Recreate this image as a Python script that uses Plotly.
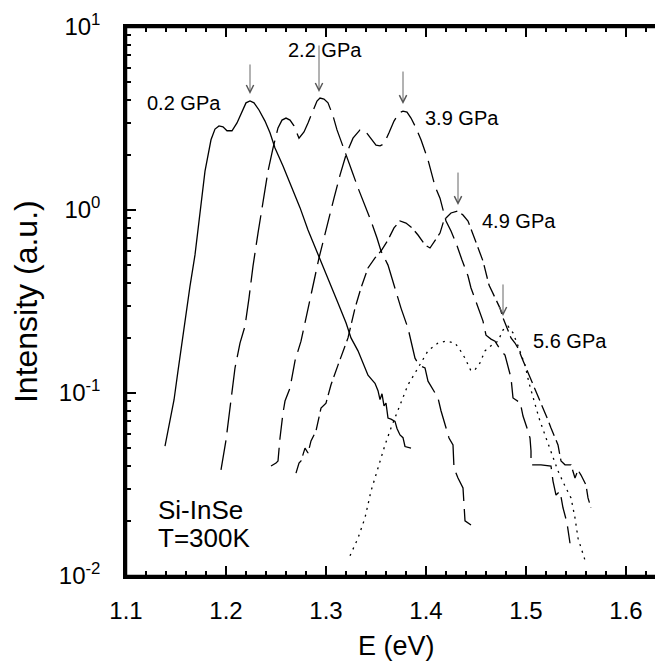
import plotly.graph_objects as go

# ---- data (E in eV, intensity in a.u.) ----
E_02 = [1.139, 1.144, 1.148, 1.152, 1.156, 1.160, 1.164, 1.169, 1.174, 1.179, 1.185, 1.189, 1.193, 1.197,
        1.201, 1.206, 1.211, 1.216, 1.220, 1.224, 1.228, 1.233, 1.239, 1.244, 1.249, 1.257, 1.265, 1.274,
        1.282, 1.292, 1.302, 1.312, 1.320, 1.325, 1.332, 1.337, 1.342, 1.346, 1.349, 1.352, 1.354, 1.356,
        1.358, 1.360, 1.362, 1.365, 1.369, 1.371, 1.374, 1.377, 1.379, 1.385]
I_02 = [0.0513, 0.0703, 0.0916, 0.132, 0.192, 0.281, 0.384, 0.568, 0.963, 1.63, 2.42, 2.77, 2.88, 2.85,
        2.71, 2.71, 2.99, 3.47, 3.85, 3.94, 3.85, 3.52, 3.06, 2.64, 2.18, 1.74, 1.37, 1.03,
        0.778, 0.568, 0.414, 0.310, 0.242, 0.200, 0.170, 0.146, 0.125, 0.118, 0.113, 0.103, 0.092, 0.099,
        0.085, 0.088, 0.073, 0.072, 0.070, 0.064, 0.059, 0.057, 0.051, 0.050]

E_22 = [1.195, 1.200, 1.204, 1.209, 1.214, 1.219, 1.223, 1.227, 1.232, 1.237, 1.242, 1.247, 1.252, 1.256,
        1.260, 1.264, 1.268, 1.273, 1.278, 1.282, 1.287, 1.291, 1.294, 1.298, 1.302, 1.307, 1.311, 1.316,
        1.320, 1.326, 1.332, 1.339, 1.345, 1.351, 1.355, 1.362, 1.369, 1.375, 1.382, 1.385, 1.389, 1.393,
        1.399, 1.402, 1.407, 1.412, 1.415, 1.419, 1.423, 1.427, 1.428, 1.432, 1.437, 1.439, 1.445]
I_22 = [0.038, 0.0553, 0.0828, 0.137, 0.1875, 0.232, 0.330, 0.494, 0.748, 1.12, 1.63, 2.18, 2.81, 3.10,
        3.18, 3.10, 2.88, 2.47, 2.67, 2.99, 3.47, 3.94, 4.09, 4.04, 3.85, 3.27, 2.74, 2.32,
        2.00, 1.63, 1.32, 1.06, 0.871, 0.703, 0.597, 0.500, 0.375, 0.291, 0.226, 0.192, 0.155, 0.142,
        0.137, 0.116, 0.104, 0.094, 0.080, 0.0668, 0.0568, 0.052, 0.0389, 0.0343, 0.0303, 0.020, 0.019]

E_39 = [1.245, 1.250, 1.252, 1.253, 1.254, 1.257, 1.259, 1.264, 1.269, 1.275, 1.282, 1.287, 1.293, 1.298,
        1.302, 1.308, 1.314, 1.320, 1.327, 1.334, 1.339, 1.345, 1.350, 1.354, 1.358, 1.363, 1.368, 1.373,
        1.377, 1.381, 1.385, 1.390, 1.395, 1.402, 1.409, 1.414, 1.420, 1.425, 1.430, 1.436, 1.442, 1.445,
        1.451, 1.457, 1.460, 1.465, 1.469, 1.475, 1.479, 1.482, 1.485, 1.487, 1.492, 1.494, 1.497, 1.501,
        1.504, 1.505, 1.505, 1.515, 1.525, 1.527, 1.530, 1.534, 1.537, 1.541, 1.544]
I_39 = [0.0399, 0.0414, 0.0425, 0.050, 0.0568, 0.0778, 0.0904, 0.1064, 0.150, 0.192, 0.291, 0.375, 0.547, 0.703,
        0.871, 1.16, 1.55, 2.00, 2.47, 2.74, 2.71, 2.47, 2.26, 2.24, 2.30, 2.64, 3.06, 3.39,
        3.47, 3.43, 3.18, 2.81, 2.42, 1.88, 1.35, 1.16, 0.871, 0.767, 0.661, 0.533, 0.436, 0.375,
        0.303, 0.247, 0.207, 0.197, 0.192, 0.170, 0.161, 0.137, 0.121, 0.094, 0.090, 0.090, 0.0748, 0.0644,
        0.0568, 0.0482, 0.0405, 0.0405, 0.0399, 0.033, 0.0277, 0.0291, 0.0236, 0.0195, 0.0151]

E_49 = [1.270, 1.273, 1.275, 1.277, 1.279, 1.282, 1.285, 1.290, 1.295, 1.300, 1.305, 1.312, 1.317, 1.322,
        1.329, 1.335, 1.342, 1.349, 1.355, 1.362, 1.368, 1.374, 1.380, 1.386, 1.392, 1.399, 1.404, 1.409,
        1.414, 1.418, 1.425, 1.432, 1.437, 1.442, 1.447, 1.452, 1.457, 1.463, 1.468, 1.474, 1.477, 1.482,
        1.485, 1.489, 1.492, 1.496, 1.499, 1.504, 1.509, 1.514, 1.519, 1.522, 1.525, 1.529, 1.532, 1.535,
        1.539, 1.545, 1.549, 1.552, 1.555, 1.560, 1.562, 1.565]
I_49 = [0.0365, 0.0414, 0.0425, 0.047, 0.050, 0.047, 0.0547, 0.062, 0.0828, 0.088, 0.111, 0.142, 0.170, 0.200,
        0.291, 0.375, 0.482, 0.547, 0.597, 0.686, 0.798, 0.871, 0.849, 0.798, 0.730, 0.644, 0.620, 0.678,
        0.748, 0.882, 0.963, 0.988, 0.939, 0.871, 0.740, 0.620, 0.526, 0.389, 0.339, 0.291, 0.257, 0.218,
        0.200, 0.1875, 0.176, 0.155, 0.142, 0.121, 0.106, 0.090, 0.0778, 0.0711, 0.0644, 0.0568, 0.052, 0.0425,
        0.0405, 0.0405, 0.0343, 0.0379, 0.0356, 0.0314, 0.0267, 0.0236]

E_56 = [1.324, 1.332, 1.339, 1.345, 1.352, 1.359, 1.365, 1.374, 1.382, 1.392, 1.402, 1.412, 1.420, 1.429,
        1.434, 1.439, 1.445, 1.449, 1.454, 1.459, 1.466, 1.472, 1.477, 1.482, 1.487, 1.492, 1.499, 1.503,
        1.508, 1.513, 1.519, 1.525, 1.532, 1.539, 1.545, 1.549, 1.552, 1.559]
I_56 = [0.0129, 0.0161, 0.0208, 0.0291, 0.0389, 0.052, 0.0644, 0.0859, 0.111, 0.137, 0.170, 0.1875, 0.192, 0.1875,
        0.172, 0.155, 0.132, 0.134, 0.146, 0.170, 0.183, 0.192, 0.221, 0.232, 0.213, 0.181, 0.142, 0.1135,
        0.0916, 0.073, 0.0589, 0.0482, 0.0375, 0.031, 0.0267, 0.0208, 0.0161, 0.0122]

pressure_labels = ["0.2 GPa", "2.2 GPa", "3.9 GPa", "4.9 GPa", "5.6 GPa"]
peak_E = [1.224, 1.293, 1.377, 1.432, 1.477]          # arrow tips (eV)
peak_logI = [0.634, 0.645, 0.579, 0.027, -0.579]       # arrow tips (log10 intensity)
label_E = [1.119, 1.260, 1.397, 1.454, 1.505]
label_logI = [0.585, 0.874, 0.503, -0.060, -0.716]

x_ticks = [1.1, 1.2, 1.3, 1.4, 1.5, 1.6]
y_ticks = [0.01, 0.1, 1, 10]
y_ticktext = ["10<sup>-2</sup>", "10<sup>-1</sup>", "10<sup>0</sup>", "10<sup>1</sup>"]

FONT = "Liberation Sans, Arial, Helvetica, sans-serif"

fig = go.Figure()
series = [
    (E_02, I_02, "solid"),
    (E_22, I_22, "30px,8px"),
    (E_39, I_39, "22px,8px"),
    (E_49, I_49, "14px,5px"),
    (E_56, I_56, "2px,5px"),
]
for (xs, ys, dash), name in zip(series, pressure_labels):
    fig.add_trace(go.Scatter(x=xs, y=ys, mode="lines", name=name,
                             line=dict(color="black", width=1.3, dash=dash),
                             showlegend=False))

ann = []
for xe, yl, ax_len in zip(peak_E, peak_logI, [-31, -48, -34, -34, -33]):
    ann.append(dict(x=xe, y=yl, xref="x", yref="y", text="", showarrow=True,
                    ax=0, ay=ax_len, arrowhead=5, arrowsize=1.6, arrowwidth=0.9,
                    arrowcolor="#555555"))
for t, xe, yl in zip(pressure_labels, label_E, label_logI):
    ann.append(dict(x=xe, y=yl, xref="x", yref="y", text=t, showarrow=False,
                    xanchor="left", yanchor="middle", font=dict(size=20, color="black", family=FONT)))
ann.append(dict(x=1.130, y=-1.639, xref="x", yref="y", text="Si-InSe", showarrow=False,
                xanchor="left", yanchor="middle", font=dict(size=26, color="black", family=FONT)))
ann.append(dict(x=1.130, y=-1.792, xref="x", yref="y", text="T=300K", showarrow=False,
                xanchor="left", yanchor="middle", font=dict(size=26, color="black", family=FONT)))
# axis titles
ann.append(dict(x=0.5, y=-0.1275, xref="paper", yref="paper", text="E (eV)", showarrow=False,
                xanchor="center", yanchor="middle", font=dict(size=27, color="black", family=FONT)))
ann.append(dict(x=-0.186, y=0.5, xref="paper", yref="paper", text="Intensity (a.u.)", showarrow=False,
                textangle=-90, xanchor="center", yanchor="middle",
                font=dict(size=32, color="black", family=FONT)))

minor_y = [m * 10.0 ** d for d in (-2, -1, 0) for m in range(2, 10)]

fig.update_layout(
    width=663, height=661,
    margin=dict(l=118, r=5, t=19, b=93, autoexpand=False),
    paper_bgcolor="white", plot_bgcolor="white",
    font=dict(family=FONT, color="black", size=24),
    annotations=ann,
    shapes=[dict(type="rect", xref="paper", yref="paper", x0=0, y0=0, x1=1, y1=1,
                 line=dict(color="black", width=2.5), layer="above")],
)
fig.update_xaxes(
    range=[1.1, 1.64], tickvals=x_ticks, ticktext=[f"{v:.1f}" for v in x_ticks],
    ticks="inside", ticklen=10, tickwidth=2, tickcolor="black",
    showline=True, linewidth=2.5, linecolor="black", mirror="allticks",
    showgrid=False, zeroline=False, automargin=False,
    minor=dict(dtick=0.02, ticks="inside", ticklen=5, tickwidth=2, tickcolor="black", showgrid=False),
    tickfont=dict(size=24), ticklabelstandoff=11,
)
fig.update_yaxes(
    type="log", range=[-2, 1], tickvals=y_ticks, ticktext=y_ticktext,
    ticks="inside", ticklen=10, tickwidth=2, tickcolor="black",
    showline=True, linewidth=2.5, linecolor="black", mirror="allticks",
    showgrid=False, zeroline=False, automargin=False,
    minor=dict(tickvals=minor_y, ticks="inside", ticklen=5, tickwidth=2, tickcolor="black", showgrid=False),
    tickfont=dict(size=24), ticklabelstandoff=18,
)

fig.write_html("out.html")
